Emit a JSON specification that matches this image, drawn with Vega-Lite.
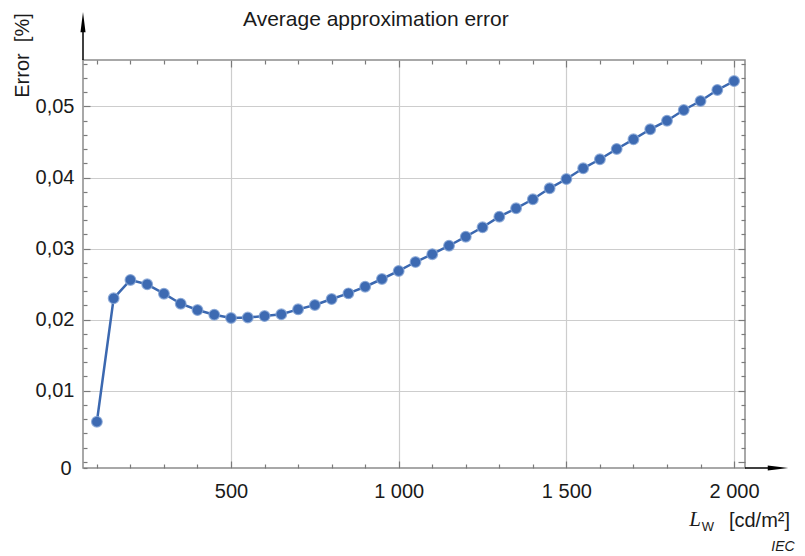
{
  "$schema": "https://vega.github.io/schema/vega-lite/v6.json",
  "width": 662,
  "height": 408,
  "autosize": "none",
  "padding": {"left": 83, "top": 60, "right": 60, "bottom": 88},
  "config": {
    "font": "Liberation Sans",
    "view": {"stroke": "#8c8c8c", "strokeWidth": 1.5},
    "axis": {"labelFont": "Liberation Sans", "titleFont": "Liberation Sans", "labelColor": "#1a1a1a", "titleColor": "#1a1a1a", "titleFontWeight": "normal"}
  },
  "title": {
    "text": "Average approximation error",
    "anchor": "start",
    "frame": "group",
    "dx": 160,
    "offset": -29,
    "fontSize": 21,
    "fontWeight": "normal",
    "font": "Liberation Sans",
    "color": "#1a1a1a",
    "baseline": "middle"
  },
  "datasets": {
    "err": [
      {"L": 100, "E": 0.00563},
      {"L": 150, "E": 0.0230},
      {"L": 200, "E": 0.02558},
      {"L": 250, "E": 0.02497},
      {"L": 300, "E": 0.02365},
      {"L": 350, "E": 0.02224},
      {"L": 400, "E": 0.02135},
      {"L": 450, "E": 0.02069},
      {"L": 500, "E": 0.02023},
      {"L": 550, "E": 0.0203},
      {"L": 600, "E": 0.02051},
      {"L": 650, "E": 0.02075},
      {"L": 700, "E": 0.02145},
      {"L": 750, "E": 0.02206},
      {"L": 800, "E": 0.0229},
      {"L": 850, "E": 0.0237},
      {"L": 900, "E": 0.02463},
      {"L": 950, "E": 0.02572},
      {"L": 1000, "E": 0.02685},
      {"L": 1050, "E": 0.02811},
      {"L": 1100, "E": 0.02921},
      {"L": 1150, "E": 0.0304},
      {"L": 1200, "E": 0.03167},
      {"L": 1250, "E": 0.033},
      {"L": 1300, "E": 0.03449},
      {"L": 1350, "E": 0.03567},
      {"L": 1400, "E": 0.03694},
      {"L": 1450, "E": 0.03848},
      {"L": 1500, "E": 0.03979},
      {"L": 1550, "E": 0.0413},
      {"L": 1600, "E": 0.04257},
      {"L": 1650, "E": 0.04402},
      {"L": 1700, "E": 0.04538},
      {"L": 1750, "E": 0.04679},
      {"L": 1800, "E": 0.048},
      {"L": 1850, "E": 0.0495},
      {"L": 1900, "E": 0.05077},
      {"L": 1950, "E": 0.05232},
      {"L": 2000, "E": 0.05358}
    ]
  },
  "layer": [
    {
      "data": {"name": "err"},
      "mark": {"type": "line", "color": "#3b68b0", "strokeWidth": 2.5},
      "encoding": {
        "x": {
          "field": "L", "type": "quantitative",
          "scale": {"domain": [58.6, 2032.6], "nice": false, "zero": false},
          "axis": {
            "orient": "bottom",
            "values": [100, 200, 300, 400, 500, 600, 700, 800, 900, 1000, 1100, 1200, 1300, 1400, 1500, 1600, 1700, 1800, 1900, 2000],
            "labelExpr": "datum.value % 500 == 0 ? replace(format(datum.value, ','), ',', ' ') : ''",
            "labelOverlap": false,
            "labelFlush": false,
            "labelFontSize": 20,
            "labelPadding": 20,
            "labelBaseline": "top",
            "domain": false,
            "grid": true,
            "gridColor": "#cdcdcd",
            "gridWidth": 1.2,
            "gridOpacity": {"condition": {"test": "datum.value % 500 == 0", "value": 1}, "value": 0},
            "tickColor": "#7a7a7a",
            "tickWidth": 1.2,
            "tickSize": {"condition": {"test": "datum.value % 500 == 0", "value": -7}, "value": -4},
            "title": "[cd/m²]",
            "titleFontSize": 20,
            "titleX": 676,
            "titleY": 52,
            "titleAlign": "center",
            "titleBaseline": "middle"
          }
        },
        "y": {
          "field": "E", "type": "quantitative",
          "scale": {"domain": [-0.00088, 0.05654], "nice": false, "zero": false},
          "axis": {
            "orient": "left",
            "values": [-0.00088, 0, 0.002, 0.004, 0.006, 0.008, 0.01, 0.012, 0.014, 0.016, 0.018, 0.02, 0.022, 0.024, 0.026, 0.028, 0.03, 0.032, 0.034, 0.036, 0.038, 0.04, 0.042, 0.044, 0.046, 0.048, 0.05, 0.052, 0.054, 0.056],
            "labelExpr": "datum.value < 0 ? '0' : (datum.value > 0.005 && abs(datum.value * 100 - round(datum.value * 100)) < 0.001 ? replace(format(datum.value, '.2f'), '.', ',') : '')",
            "labelOverlap": false,
            "labelFlush": false,
            "labelFontSize": 20,
            "labelPadding": 16,
            "labelBaseline": "middle",
            "domain": false,
            "grid": true,
            "gridColor": "#cdcdcd",
            "gridWidth": 1.2,
            "gridOpacity": {"condition": {"test": "datum.value > 0.005 && abs(datum.value * 100 - round(datum.value * 100)) < 0.001", "value": 1}, "value": 0},
            "tickColor": "#7a7a7a",
            "tickWidth": 1.2,
            "tickSize": {"condition": {"test": "datum.value > 0.005 && abs(datum.value * 100 - round(datum.value * 100)) < 0.001", "value": -7}, "value": -4},
            "title": "Error\u00a0 [%]",
            "titleFontSize": 20,
            "titleAngle": -90,
            "titleX": -61,
            "titleY": -5,
            "titleAlign": "center",
            "titleBaseline": "middle"
          }
        }
      }
    },
    {
      "data": {"name": "err"},
      "mark": {"type": "point", "filled": true, "color": "#3d6ab2", "size": 115, "opacity": 1, "stroke": "#86a5d6", "strokeWidth": 1.2, "strokeOpacity": 0.8},
      "encoding": {
        "x": {
          "field": "L", "type": "quantitative",
          "scale": {"domain": [58.6, 2032.6], "nice": false, "zero": false},
          "axis": {
            "orient": "top",
            "values": [100, 200, 300, 400, 500, 600, 700, 800, 900, 1000, 1100, 1200, 1300, 1400, 1500, 1600, 1700, 1800, 1900, 2000],
            "labels": false,
            "domain": false,
            "grid": false,
            "tickColor": "#7a7a7a",
            "tickWidth": 1.2,
            "tickSize": {"condition": {"test": "datum.value % 500 == 0", "value": -7}, "value": -4},
            "title": null
          }
        },
        "y": {
          "field": "E", "type": "quantitative",
          "scale": {"domain": [-0.00088, 0.05654], "nice": false, "zero": false},
          "axis": {
            "orient": "right",
            "values": [0, 0.002, 0.004, 0.006, 0.008, 0.01, 0.012, 0.014, 0.016, 0.018, 0.02, 0.022, 0.024, 0.026, 0.028, 0.03, 0.032, 0.034, 0.036, 0.038, 0.04, 0.042, 0.044, 0.046, 0.048, 0.05, 0.052, 0.054, 0.056],
            "labels": false,
            "domain": false,
            "grid": false,
            "tickColor": "#7a7a7a",
            "tickWidth": 1.2,
            "tickSize": {"condition": {"test": "abs(datum.value * 100 - round(datum.value * 100)) < 0.001", "value": -7}, "value": -4},
            "title": null
          }
        }
      }
    },
    {
      "data": {"values": [{}]},
      "mark": {"type": "rule", "color": "black", "strokeWidth": 1.5, "clip": false},
      "encoding": {
        "x": {"datum": 58.6, "type": "quantitative", "scale": {"domain": [58.6, 2032.6], "nice": false, "zero": false}, "axis": null},
        "y": {"datum": 0.05654, "type": "quantitative", "scale": {"domain": [-0.00088, 0.05654], "nice": false, "zero": false}, "axis": null},
        "y2": {"datum": 0.0619}
      }
    },
    {
      "data": {"values": [{}]},
      "mark": {"type": "rule", "color": "black", "strokeWidth": 1.5, "clip": false},
      "encoding": {
        "x": {"datum": 2032.6, "type": "quantitative", "scale": {"domain": [58.6, 2032.6], "nice": false, "zero": false}, "axis": null},
        "x2": {"datum": 2131},
        "y": {"datum": -0.00088, "type": "quantitative", "scale": {"domain": [-0.00088, 0.05654], "nice": false, "zero": false}, "axis": null}
      }
    },
    {
      "data": {"values": [{}]},
      "mark": {"type": "point", "filled": true, "color": "black", "opacity": 1, "size": 420, "shape": "M-0.25,1 L0,-1 L0.25,1 Z", "clip": false},
      "encoding": {
        "x": {"datum": 58.6, "type": "quantitative", "scale": {"domain": [58.6, 2032.6], "nice": false, "zero": false}, "axis": null},
        "y": {"datum": 0.0619, "type": "quantitative", "scale": {"domain": [-0.00088, 0.05654], "nice": false, "zero": false}, "axis": null}
      }
    },
    {
      "data": {"values": [{}]},
      "mark": {"type": "point", "filled": true, "color": "black", "opacity": 1, "size": 420, "shape": "M-1,-0.25 L1,0 L-1,0.25 Z", "clip": false},
      "encoding": {
        "x": {"datum": 2131, "type": "quantitative", "scale": {"domain": [58.6, 2032.6], "nice": false, "zero": false}, "axis": null},
        "y": {"datum": -0.00088, "type": "quantitative", "scale": {"domain": [-0.00088, 0.05654], "nice": false, "zero": false}, "axis": null}
      }
    },
    {
      "data": {"values": [{}]},
      "mark": {"type": "text", "font": "Liberation Serif", "fontStyle": "italic", "fontSize": 21, "align": "center", "baseline": "middle", "color": "#1a1a1a", "clip": false},
      "encoding": {
        "x": {"datum": 1884, "type": "quantitative", "scale": {"domain": [58.6, 2032.6], "nice": false, "zero": false}, "axis": null},
        "y": {"datum": -0.0082, "type": "quantitative", "scale": {"domain": [-0.00088, 0.05654], "nice": false, "zero": false}, "axis": null},
        "text": {"value": "L"}
      }
    },
    {
      "data": {"values": [{}]},
      "mark": {"type": "text", "font": "Liberation Sans", "fontSize": 13, "align": "center", "baseline": "middle", "color": "#1a1a1a", "clip": false},
      "encoding": {
        "x": {"datum": 1922, "type": "quantitative", "scale": {"domain": [58.6, 2032.6], "nice": false, "zero": false}, "axis": null},
        "y": {"datum": -0.00915, "type": "quantitative", "scale": {"domain": [-0.00088, 0.05654], "nice": false, "zero": false}, "axis": null},
        "text": {"value": "W"}
      }
    },
    {
      "data": {"values": [{}]},
      "mark": {"type": "text", "font": "Liberation Sans", "fontStyle": "italic", "fontSize": 14, "align": "center", "baseline": "middle", "color": "#1a1a1a", "clip": false},
      "encoding": {
        "x": {"datum": 2146, "type": "quantitative", "scale": {"domain": [58.6, 2032.6], "nice": false, "zero": false}, "axis": null},
        "y": {"datum": -0.012, "type": "quantitative", "scale": {"domain": [-0.00088, 0.05654], "nice": false, "zero": false}, "axis": null},
        "text": {"value": "IEC"}
      }
    }
  ],
  "resolve": {"axis": {"x": "independent", "y": "independent"}}
}
